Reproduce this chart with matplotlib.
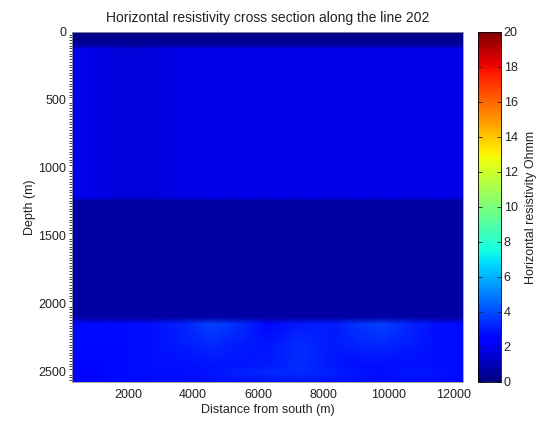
import numpy as np
import matplotlib
matplotlib.use('Agg')
import matplotlib.pyplot as plt
from matplotlib.ticker import MultipleLocator

plt.rcParams['font.family'] = ['Liberation Sans', 'DejaVu Sans']
plt.rcParams['text.color'] = '#222222'
plt.rcParams['xtick.color'] = '#222222'
plt.rcParams['ytick.color'] = '#222222'
plt.rcParams['axes.labelcolor'] = '#222222'

# distance along the line (m) for each column of the model
x_nodes = [280, 1000, 1700, 2600, 3600, 4600, 5500, 6300, 7300, 8300, 9000, 9800, 10800, 11500, 12300]

# depth (m) of each row of the model
depth_nodes = [0, 40, 100, 125, 1220, 1240, 2100, 2150, 2300, 2450, 2510, 2575]

# horizontal resistivity (Ohmm), one row per depth node
rho_rows = [
    [0.3, 0.3, 0.3, 0.3, 0.3, 0.3, 0.3, 0.3, 0.3, 0.3, 0.3, 0.3, 0.3, 0.3, 0.3],
    [0.2, 0.2, 0.2, 0.2, 0.2, 0.2, 0.2, 0.2, 0.2, 0.2, 0.2, 0.2, 0.2, 0.2, 0.2],
    [0.6, 0.6, 0.6, 0.6, 0.6, 0.6, 0.6, 0.6, 0.6, 0.6, 0.6, 0.6, 0.6, 0.6, 0.6],
    [1.9, 1.8, 1.6, 1.6, 1.8, 1.8, 1.8, 1.8, 1.8, 1.8, 1.8, 1.8, 1.8, 1.8, 1.8],
    [1.9, 1.8, 1.6, 1.6, 1.8, 1.8, 1.8, 1.8, 1.8, 1.8, 1.8, 1.8, 1.8, 1.8, 1.8],
    [0.7, 0.7, 0.7, 0.7, 0.7, 0.7, 0.7, 0.7, 0.7, 0.7, 0.7, 0.7, 0.7, 0.7, 0.7],
    [0.7, 0.7, 0.7, 0.7, 0.7, 0.7, 0.7, 0.7, 0.7, 0.7, 0.7, 0.7, 0.7, 0.7, 0.7],
    [2.7, 2.7, 2.7, 2.8, 3.2, 3.9, 3.3, 2.6, 3.0, 3.0, 3.5, 3.8, 3.2, 2.8, 2.7],
    [2.7, 2.7, 2.7, 2.8, 3.0, 3.3, 3.0, 2.9, 3.4, 3.0, 3.2, 3.3, 3.0, 2.8, 2.7],
    [2.6, 2.6, 2.7, 2.8, 2.8, 2.9, 2.9, 3.0, 3.4, 2.9, 2.8, 2.8, 2.8, 2.8, 2.7],
    [2.6, 2.6, 2.7, 2.8, 2.8, 2.9, 3.2, 3.3, 3.3, 3.2, 2.9, 2.8, 3.0, 2.9, 2.7],
    [2.6, 2.6, 2.6, 2.7, 2.7, 2.8, 2.8, 2.8, 2.9, 2.8, 2.8, 2.7, 2.7, 2.7, 2.6],
]

cbar_ticks = [0, 2, 4, 6, 8, 10, 12, 14, 16, 18, 20]

fig = plt.figure(figsize=(5.47, 4.22), dpi=100)
ax = fig.add_axes([0.1316, 0.0948, 0.7148, 0.8294])
cax = fig.add_axes([0.8739, 0.0948, 0.042, 0.8294])

X, Y = np.meshgrid(x_nodes, depth_nodes)
mesh = ax.pcolormesh(X, Y, np.array(rho_rows), cmap='jet', vmin=0, vmax=20,
                     shading='gouraud', rasterized=True)

ax.set_xlim(x_nodes[0], x_nodes[-1])
ax.set_ylim(depth_nodes[-1], depth_nodes[0])
ax.set_xticks([2000, 4000, 6000, 8000, 10000, 12000])
ax.set_yticks([0, 500, 1000, 1500, 2000, 2500])
ax.yaxis.set_minor_locator(MultipleLocator(20))
ax.tick_params(axis='x', length=0, labelsize=9, pad=5)
ax.tick_params(axis='y', which='major', length=0, labelsize=9, pad=4)
ax.tick_params(axis='y', which='minor', length=2, width=0.6, direction='out')
for s in ax.spines.values():
    s.set_linewidth(0.6)
    s.set_color('#999999')

ax.set_title('Horizontal resistivity cross section along the line 202', fontsize=10, pad=7)
ax.set_xlabel('Distance from south (m)', fontsize=9, labelpad=2)
ax.set_ylabel('Depth (m)', fontsize=9, labelpad=2)

cb = fig.colorbar(mesh, cax=cax, ticks=cbar_ticks)
cb.outline.set_linewidth(0.6)
cax.tick_params(labelsize=9, direction='in', length=3, width=0.6, left=True, right=True, pad=2)
cb.set_label('Horizontal resistivity Ohmm', fontsize=9, labelpad=5)

fig.savefig('out.png', dpi=100)
